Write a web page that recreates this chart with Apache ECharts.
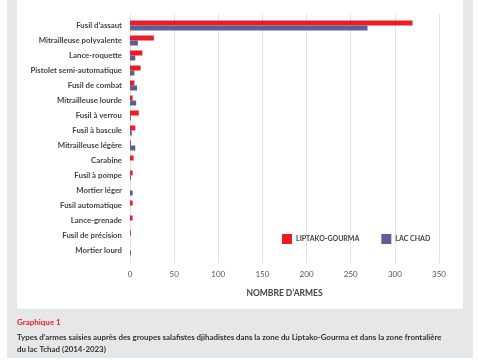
<!DOCTYPE html>
<html><head><meta charset="utf-8">
<script src="https://cdn.jsdelivr.net/npm/echarts@6/dist/echarts.min.js"></script>
<style>html,body{margin:0;padding:0;background:#fff}#c{width:478px;height:360px}</style>
</head><body><div id="c"></div>
<script>
const categories = ["Fusil d\u2019assaut","Mitrailleuse polyvalente","Lance-roquette","Pistolet semi-automatique","Fusil de combat","Mitrailleuse lourde","Fusil à verrou","Fusil à bascule","Mitrailleuse légère","Carabine","Fusil à pompe","Mortier léger","Fusil automatique","Lance-grenade","Fusil de précision","Mortier lourd"];
const liptako = [320,27,14,12,5,3,10,6,1,4,3,0,3,3,1,0];
const lacChad = [269,9,6,5,8,7,1,2,6,0,1,3,0,0,0,1];
const seriesNames = ["LIPTAKO-GOURMA","LAC CHAD"];
const xTicks = [0,50,100,150,200,250,300,350];
const axisTitle = "NOMBRE D\u2019ARMES";
const captionHead = "Graphique 1";
const captionText = "Types d\u2019armes saisies auprès des groupes salafistes djihadistes dans la zone du Liptako-Gourma et dans la zone frontalière\ndu lac Tchad (2014-2023)";

const FONT = "Lato";
const chart = echarts.init(document.getElementById('c'), null, {renderer:'canvas'});
chart.setOption({
  animation:false,
  backgroundColor:'#fff',
  textStyle:{fontFamily:FONT},
  graphic:[
    {type:'rect', z:-10, shape:{x:7,y:0,width:466,height:358}, style:{fill:'#e6e7e9'}, silent:true},
    {type:'rect', z:-9, shape:{x:17,y:0,width:446,height:309}, style:{fill:'#ffffff'}, silent:true},
    {type:'text', left:17, top:318, style:{text:captionHead, fill:'#ed1c24', font:'bold 8px '+FONT}},
    {type:'text', left:17, top:331, style:{text:captionText, fill:'#333', font:'bold 7.9px '+FONT, lineHeight:12}}
  ],
  legend:{
    data:seriesNames, left:282, top:234, padding:0, icon:'rect', itemWidth:10, itemHeight:10, itemGap:22,
    textStyle:{fontFamily:FONT, fontSize:7, fontWeight:'bold', color:'#444', padding:[0,0,0,-1]}
  },
  grid:[
    {left:130, width:309, top:18, height:240, containLabel:false},
    {left:130, width:309, top:14, height:249, containLabel:false}
  ],
  xAxis:[
    {gridIndex:0, type:'value', min:0, max:350, interval:50, show:false},
    {gridIndex:1, type:'value', min:0, max:350, interval:50,
     axisLine:{show:false}, axisTick:{show:false},
     splitLine:{show:true, lineStyle:{color:'#e3e3e3', width:1}},
     axisLabel:{color:'#555', fontSize:8, margin:7, fontFamily:FONT},
     name:axisTitle, nameLocation:'middle', nameGap:26,
     nameTextStyle:{fontFamily:FONT, fontSize:8.5, fontWeight:'bold', color:'#444'}}
  ],
  yAxis:[
    {gridIndex:0, type:'category', data:categories, inverse:true,
     axisLine:{show:false}, axisTick:{show:false}, splitLine:{show:false},
     axisLabel:{color:'#444', fontSize:7.8, fontWeight:'bold', margin:8, fontFamily:FONT}},
    {gridIndex:1, type:'value', show:false}
  ],
  series:[
    {name:seriesNames[0], type:'bar', xAxisIndex:0, yAxisIndex:0, data:liptako, itemStyle:{color:'#ed1c24'}, barWidth:5, barGap:'0%'},
    {name:seriesNames[1], type:'bar', xAxisIndex:0, yAxisIndex:0, data:lacChad, itemStyle:{color:'#5c5e94'}, barWidth:5, barGap:'0%'}
  ]
});
</script></body></html>
